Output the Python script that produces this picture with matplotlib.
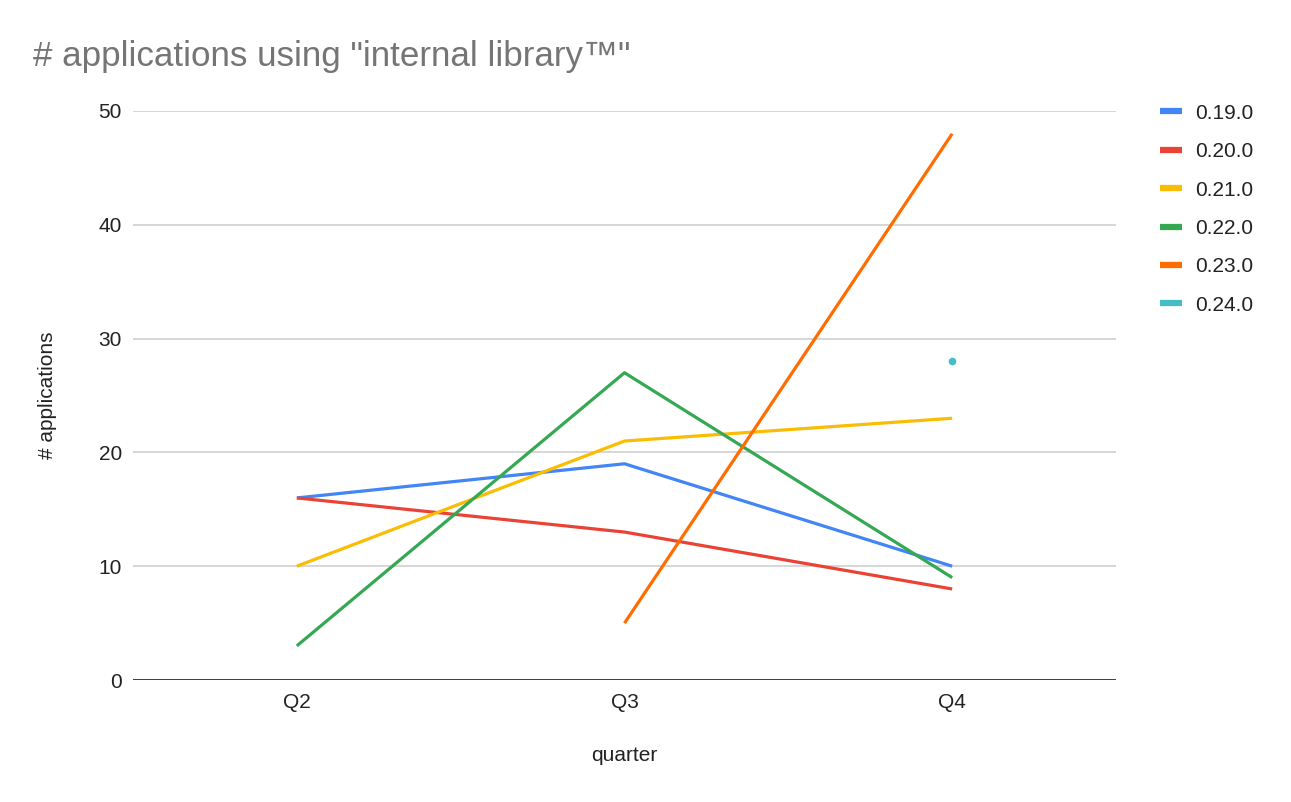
import numpy as np
import matplotlib
matplotlib.use("Agg")
import matplotlib.pyplot as plt

plt.rcParams['font.family'] = ['Liberation Sans', 'DejaVu Sans']

# data
quarters = ['Q2', 'Q3', 'Q4']
versions = ['0.19.0', '0.20.0', '0.21.0', '0.22.0', '0.23.0', '0.24.0']
v0_19 = [16, 19, 10]
v0_20 = [16, 13, 8]
v0_21 = [10, 21, 23]
v0_22 = [3, 27, 9]
v0_23 = [np.nan, 5, 48]
v0_24 = [np.nan, np.nan, 28]
colors = ['#4285F4', '#EA4335', '#FBBC04', '#34A853', '#FF6D01', '#46BDC6']

W, H = 1291, 802
fig = plt.figure(figsize=(W / 100, H / 100), dpi=100)
ax = fig.add_axes([133 / W, (H - 680) / H, 983 / W, 569 / H])

x = np.arange(len(quarters)) + 0.5
series = [v0_19, v0_20, v0_21, v0_22, v0_23, v0_24]
handles = []
for name, vals, c in zip(versions, series, colors):
    vals = np.array(vals, dtype=float)
    ax.plot(x, vals, color=c, lw=2.3, solid_capstyle='butt', zorder=3)
    # lone points (no neighbours) get drawn as a dot
    for i, v in enumerate(vals):
        prev_ok = i > 0 and not np.isnan(vals[i - 1])
        next_ok = i < len(vals) - 1 and not np.isnan(vals[i + 1])
        if not np.isnan(v) and not prev_ok and not next_ok:
            ax.plot([x[i]], [v], 'o', color=c, ms=4.5, zorder=3)
    h, = ax.plot([], [], color=c, lw=4.5, solid_capstyle='butt', label=name)
    handles.append(h)

ax.set_xlim(0, 3)
ax.set_ylim(0, 50)
ax.set_xticks(x)
ax.set_xticklabels(quarters)
ax.set_yticks([0, 10, 20, 30, 40, 50])
ax.tick_params(length=0, labelsize=15, colors='#222222', pad=8)
ax.tick_params(axis='x', pad=9.5)
ax.grid(axis='y', color='#cccccc', lw=1.1, zorder=0)
ax.set_axisbelow(True)
for s in ax.spines.values():
    s.set_visible(False)
ax.axhline(0, color='#333333', lw=1.3, zorder=2)

ax.set_xlabel('quarter', fontsize=15, color='#222222', labelpad=24)
ax.set_ylabel('# applications', fontsize=15, color='#222222', labelpad=30)

fig.text(33 / W, 1 - 66 / H, '# applications using "internal library\u2122"',
         fontsize=25.2, color='#757575', va='baseline', ha='left')

fig.legend(handles=handles, loc='upper left', bbox_to_anchor=(1141 / W, 1 - 85 / H),
           frameon=False, fontsize=15, handlelength=1.06, handletextpad=0.62,
           labelspacing=0.93, labelcolor='#222222')

fig.savefig('out.png', dpi=100)
